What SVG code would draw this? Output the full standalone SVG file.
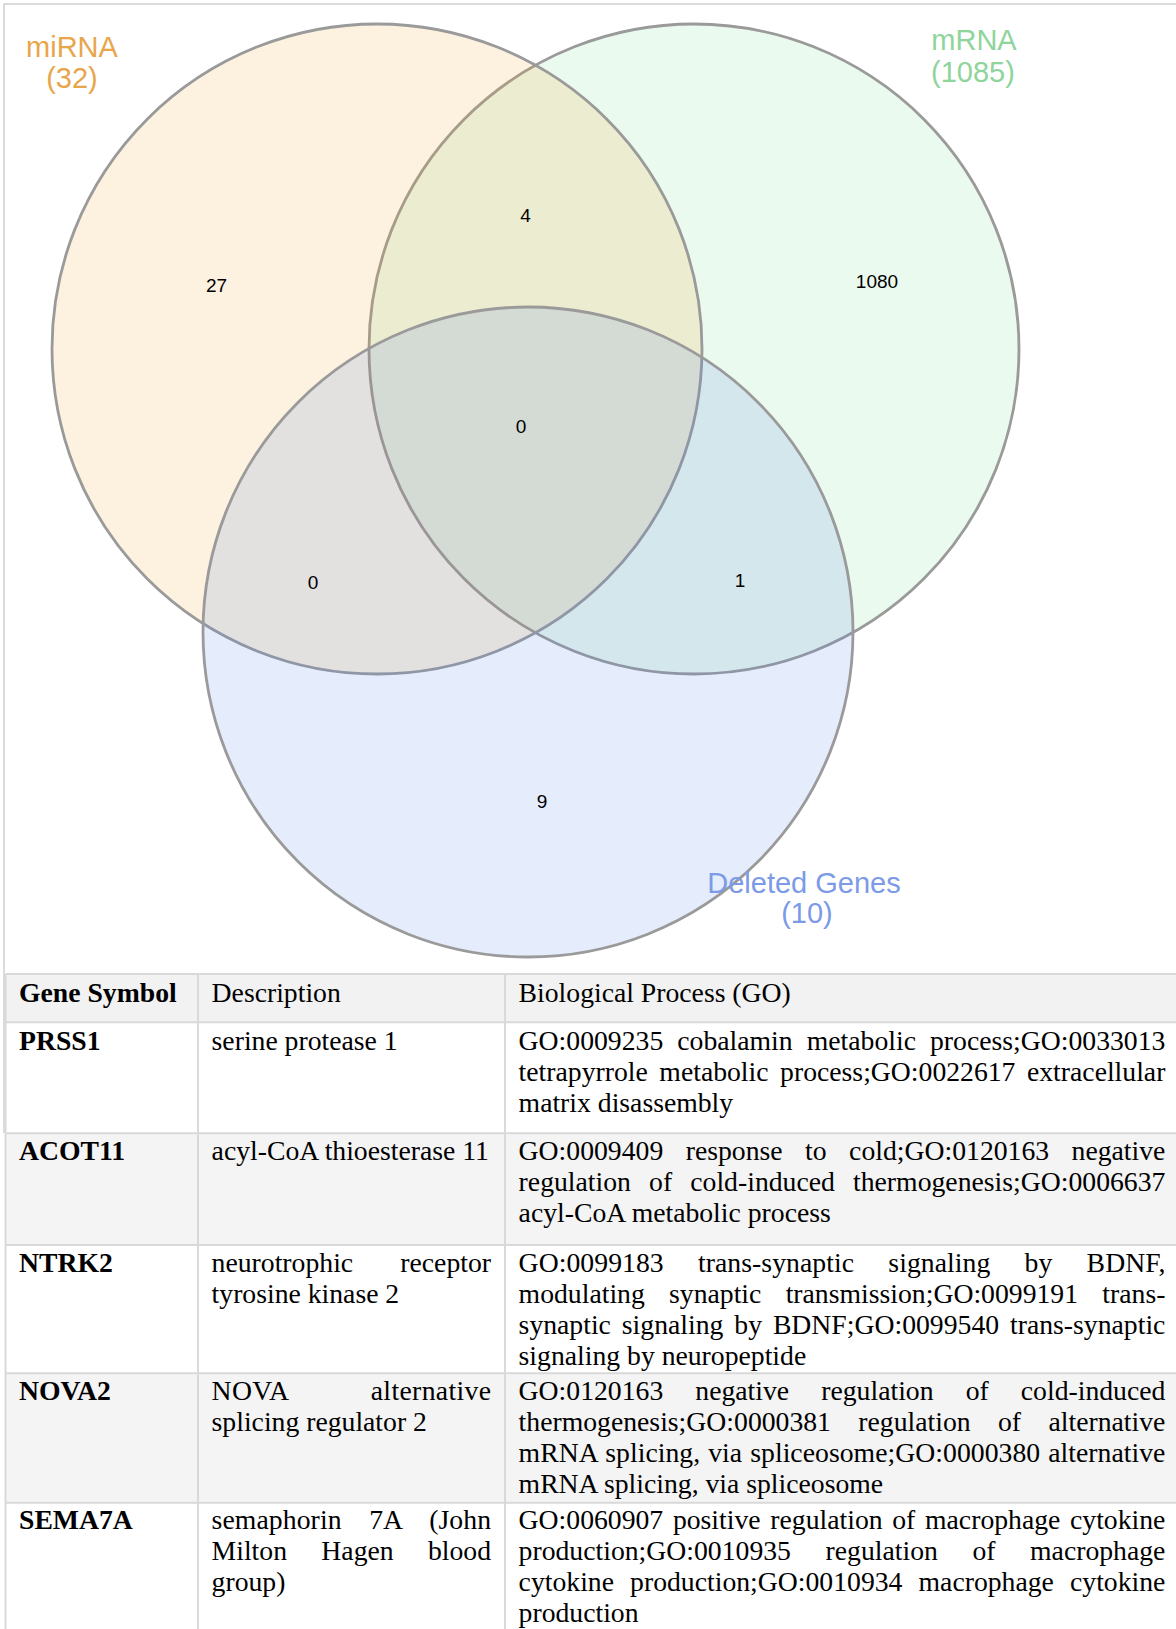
<svg xmlns="http://www.w3.org/2000/svg" width="1176" height="1629" viewBox="0 0 1176 1629">
<style>
.circ{stroke:#9a9a9a;stroke-width:2.8;fill-opacity:0.15}
.num{font-family:"Liberation Sans",Arial,sans-serif;font-size:19px;fill:#000;text-anchor:middle}
.lbl{font-family:"Liberation Sans",Arial,sans-serif;font-size:29px;text-anchor:middle}
.grid{stroke:#d9d9d9;stroke-width:2;fill:none}
.t{font-family:"Liberation Serif","Times New Roman",serif;font-size:27.7px;fill:#000}
.b{font-weight:bold}
</style>
<rect width="1176" height="1629" fill="#fff"/>
<path d="M4,1133 V4 H1176" fill="none" stroke="#cfcfcf" stroke-width="1.5"/>
<g id="venn">
<g id="set-mrna"><circle class="circ" cx="694" cy="349" r="325" fill="#7ADE8E"/></g>
<g id="set-mirna"><circle class="circ" cx="377" cy="349" r="325" fill="#F2A22A"/></g>
<g id="set-deleted"><circle class="circ" cx="528" cy="632" r="325" fill="#5280EB"/></g>
<g id="labels">
<text class="lbl" fill="#E8A64C" x="72" y="57">miRNA</text>
<text class="lbl" fill="#E8A64C" x="72" y="88">(32)</text>
<text class="lbl" fill="#8ED49B" x="974" y="50">mRNA</text>
<text class="lbl" fill="#8ED49B" x="973" y="82">(1085)</text>
<text class="lbl" fill="#7C9AE8" x="804" y="893">Deleted Genes</text>
<text class="lbl" fill="#7C9AE8" x="807" y="923">(10)</text>
</g>
<g id="counts">
<text class="num" x="216.6" y="292">27</text>
<text class="num" x="525.6" y="222">4</text>
<text class="num" x="877" y="288">1080</text>
<text class="num" x="521" y="433">0</text>
<text class="num" x="313" y="589">0</text>
<text class="num" x="740" y="587">1</text>
<text class="num" x="542" y="808">9</text>
</g>
</g>
<g id="table">
<rect x="5.5" y="974" width="1170.5" height="48.3" fill="#f2f2f2"/>
<rect x="5.5" y="1133.3" width="1170.5" height="111.7" fill="#f4f4f4"/>
<rect x="5.5" y="1373.3" width="1170.5" height="129.4" fill="#f4f4f4"/>
<g class="grid">
<path d="M5.5,974 H1176 M5.5,1022.3 H1176 M5.5,1133.3 H1176 M5.5,1245 H1176 M5.5,1373.3 H1176 M5.5,1502.7 H1176"/>
<path d="M5.5,974 V1629 M198,974 V1629 M505,974 V1629"/>
</g>
<g id="header">
<text class="t b" x="19" y="1001.7">Gene Symbol</text>
<text class="t" x="211.6" y="1001.7">Description</text>
<text class="t" x="518.6" y="1001.7">Biological Process (GO)</text>
</g>
<g id="row-prss1">
<text class="t b" x="19" y="1050">PRSS1</text>
<text class="t" x="211.6" y="1050">serine protease 1</text>
<text class="t" x="518.6" y="1050" word-spacing="7.1" textLength="646.8" lengthAdjust="spacing">GO:0009235 cobalamin metabolic process;GO:0033013</text>
<text class="t" x="518.6" y="1081" word-spacing="4.58" textLength="646.8" lengthAdjust="spacing">tetrapyrrole metabolic process;GO:0022617 extracellular</text>
<text class="t" x="518.6" y="1112">matrix disassembly</text>
</g>
<g id="row-acot11">
<text class="t b" x="19" y="1160">ACOT11</text>
<text class="t" x="211.6" y="1160">acyl-CoA thioesterase 11</text>
<text class="t" x="518.6" y="1160" word-spacing="15.52" textLength="646.8" lengthAdjust="spacing">GO:0009409 response to cold;GO:0120163 negative</text>
<text class="t" x="518.6" y="1191" word-spacing="11.2" textLength="646.8" lengthAdjust="spacing">regulation of cold-induced thermogenesis;GO:0006637</text>
<text class="t" x="518.6" y="1222">acyl-CoA metabolic process</text>
</g>
<g id="row-ntrk2">
<text class="t b" x="19" y="1271.7">NTRK2</text>
<text class="t" x="211.6" y="1271.7" word-spacing="40.2" textLength="279.4" lengthAdjust="spacing">neurotrophic receptor</text>
<text class="t" x="211.6" y="1302.7">tyrosine kinase 2</text>
<text class="t" x="518.6" y="1271.7" word-spacing="27.25" textLength="646.8" lengthAdjust="spacing">GO:0099183 trans-synaptic signaling by BDNF,</text>
<text class="t" x="518.6" y="1302.7" word-spacing="17.34" textLength="646.8" lengthAdjust="spacing">modulating synaptic transmission;GO:0099191 trans-</text>
<text class="t" x="518.6" y="1333.7" word-spacing="3.98" textLength="646.8" lengthAdjust="spacing">synaptic signaling by BDNF;GO:0099540 trans-synaptic</text>
<text class="t" x="518.6" y="1364.7">signaling by neuropeptide</text>
</g>
<g id="row-nova2">
<text class="t b" x="19" y="1400">NOVA2</text>
<text class="t" x="211.6" y="1400" word-spacing="75.6" textLength="279.4" lengthAdjust="spacing">NOVA alternative</text>
<text class="t" x="211.6" y="1431">splicing regulator 2</text>
<text class="t" x="518.6" y="1400" word-spacing="25.15" textLength="646.8" lengthAdjust="spacing">GO:0120163 negative regulation of cold-induced</text>
<text class="t" x="518.6" y="1431" word-spacing="20.44" textLength="646.8" lengthAdjust="spacing">thermogenesis;GO:0000381 regulation of alternative</text>
<text class="t" x="518.6" y="1462" word-spacing="1.1" textLength="646.8" lengthAdjust="spacing">mRNA splicing, via spliceosome;GO:0000380 alternative</text>
<text class="t" x="518.6" y="1493">mRNA splicing, via spliceosome</text>
</g>
<g id="row-sema7a">
<text class="t b" x="19" y="1529.3">SEMA7A</text>
<text class="t" x="211.6" y="1529.3" word-spacing="20.5" textLength="279.4" lengthAdjust="spacing">semaphorin 7A (John</text>
<text class="t" x="211.6" y="1560.3" word-spacing="27.4" textLength="279.4" lengthAdjust="spacing">Milton Hagen blood</text>
<text class="t" x="211.6" y="1591.3">group)</text>
<text class="t" x="518.6" y="1529.3" word-spacing="2.74" textLength="646.8" lengthAdjust="spacing">GO:0060907 positive regulation of macrophage cytokine</text>
<text class="t" x="518.6" y="1560.3" word-spacing="27.64" textLength="646.8" lengthAdjust="spacing">production;GO:0010935 regulation of macrophage</text>
<text class="t" x="518.6" y="1591.3" word-spacing="9.18" textLength="646.8" lengthAdjust="spacing">cytokine production;GO:0010934 macrophage cytokine</text>
<text class="t" x="518.6" y="1622.3">production</text>
</g>
</g>
</svg>
